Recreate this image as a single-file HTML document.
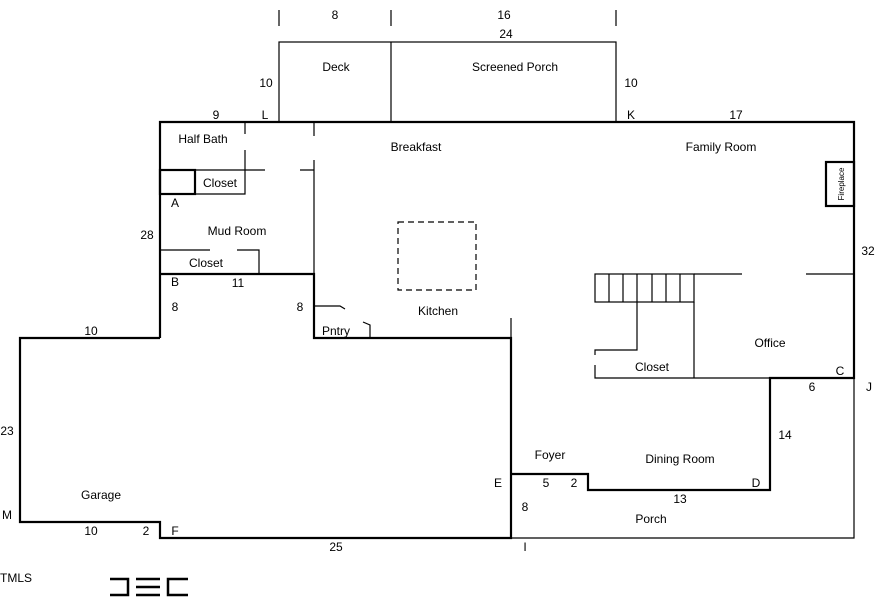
<!DOCTYPE html>
<html><head><style>
body{margin:0;background:#fff}
svg{display:block}
text{font-family:"Liberation Sans",sans-serif;font-size:12px;fill:#000}
</style></head><body>
<svg width="896" height="604" viewBox="0 0 896 604" xmlns="http://www.w3.org/2000/svg">
<g stroke="#000" fill="none">
<g stroke-width="2.2">
<path d="M160,338 V122 H854 V378 H770 V490 H588 V474 H511"/>
<path d="M160,338 H20 V522 H160 V538 H511 V338 H314 V274 H160"/>
<rect x="160" y="170" width="35" height="24"/>
<rect x="826" y="162" width="28" height="44"/>
</g>
<g stroke-width="1.2">
<path d="M511,538 H854 V378"/>
<path d="M511,338 V318"/>
<rect x="279" y="42" width="337" height="80"/>
<path d="M391,42 V122"/>
<path d="M279,10 V26 M391,10 V26 M616,10 V26"/>
<path d="M314,122 V136 M314,160 V274"/>
<path d="M245,122 V134 M245,150 V194 H195"/>
<path d="M195,170 H265 M300,170 H314"/>
<path d="M160,250 H210 M237,250 H259 V274"/>
<path d="M314,306 H340 L345,309"/>
<path d="M363,322 L370,325 V338"/>
<rect x="595" y="274" width="99" height="28"/>
<path d="M609,274V302M623,274V302M637,274V302M652,274V302M666,274V302M680,274V302"/>
<path d="M694,274 H742 M806,274 H854"/>
<path d="M694,302 V378 M637,302 V350 H595 V355 M595,365 V378 H770"/>
<rect x="398" y="222" width="78" height="68" stroke-dasharray="6,4"/>
</g>
<g stroke-width="2.5">
<path d="M110,579 H128 V595 H110"/>
<path d="M136,579 H160 M136,587 H160 M136,595 H160"/>
<path d="M188,579 H168 V595 H188"/>
</g>
</g>
<text x="335" y="19" text-anchor="middle">8</text>
<text x="504" y="19" text-anchor="middle">16</text>
<text x="506" y="38" text-anchor="middle">24</text>
<text x="336" y="71" text-anchor="middle">Deck</text>
<text x="515" y="71" text-anchor="middle">Screened Porch</text>
<text x="266" y="87" text-anchor="middle">10</text>
<text x="631" y="87" text-anchor="middle">10</text>
<text x="216" y="119" text-anchor="middle">9</text>
<text x="265" y="119" text-anchor="middle">L</text>
<text x="631" y="119" text-anchor="middle">K</text>
<text x="736" y="119" text-anchor="middle">17</text>
<text x="203" y="143" text-anchor="middle">Half Bath</text>
<text x="416" y="151" text-anchor="middle">Breakfast</text>
<text x="721" y="151" text-anchor="middle">Family Room</text>
<text x="220" y="187" text-anchor="middle">Closet</text>
<text x="175" y="207" text-anchor="middle">A</text>
<text x="237" y="235" text-anchor="middle">Mud Room</text>
<text x="147" y="239" text-anchor="middle">28</text>
<text x="206" y="267" text-anchor="middle">Closet</text>
<text x="868" y="255" text-anchor="middle">32</text>
<text x="175" y="286" text-anchor="middle">B</text>
<text x="238" y="287" text-anchor="middle">11</text>
<text x="175" y="311" text-anchor="middle">8</text>
<text x="300" y="311" text-anchor="middle">8</text>
<text x="438" y="315" text-anchor="middle">Kitchen</text>
<text x="336" y="335" text-anchor="middle">Pntry</text>
<text x="91" y="335" text-anchor="middle">10</text>
<text x="770" y="347" text-anchor="middle">Office</text>
<text x="652" y="371" text-anchor="middle">Closet</text>
<text x="840" y="375" text-anchor="middle">C</text>
<text x="812" y="391" text-anchor="middle">6</text>
<text x="869" y="391" text-anchor="middle">J</text>
<text x="7" y="435" text-anchor="middle">23</text>
<text x="785" y="439" text-anchor="middle">14</text>
<text x="550" y="459" text-anchor="middle">Foyer</text>
<text x="680" y="463" text-anchor="middle">Dining Room</text>
<text x="498" y="487" text-anchor="middle">E</text>
<text x="546" y="487" text-anchor="middle">5</text>
<text x="574" y="487" text-anchor="middle">2</text>
<text x="756" y="487" text-anchor="middle">D</text>
<text x="101" y="499" text-anchor="middle">Garage</text>
<text x="680" y="503" text-anchor="middle">13</text>
<text x="525" y="511" text-anchor="middle">8</text>
<text x="7" y="519" text-anchor="middle">M</text>
<text x="651" y="523" text-anchor="middle">Porch</text>
<text x="91" y="535" text-anchor="middle">10</text>
<text x="146" y="535" text-anchor="middle">2</text>
<text x="175" y="535" text-anchor="middle">F</text>
<text x="336" y="551" text-anchor="middle">25</text>
<text x="525" y="551" text-anchor="middle">I</text>
<text x="0" y="582" font-size="13">TMLS</text>
<text transform="translate(844,184) rotate(-90)" text-anchor="middle" style="font-size:8px">Fireplace</text>
</svg>
</body></html>
